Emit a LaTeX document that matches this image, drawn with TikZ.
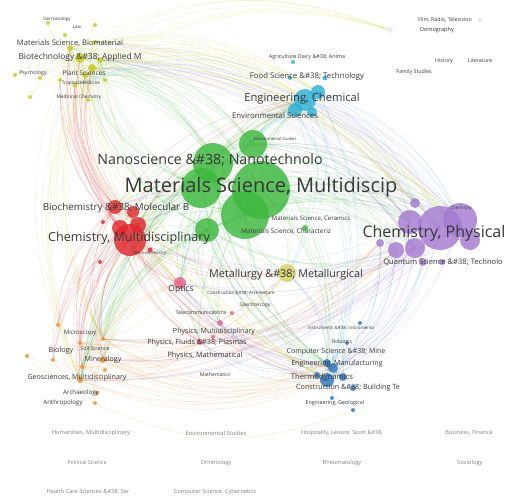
\documentclass[tikz,border=0pt]{standalone}
\usepackage{fontspec}
\setmainfont{Open Sans}
\usetikzlibrary{calc}
\definecolor{cgreen}{HTML}{3DB83D}
\definecolor{cpurple}{HTML}{A57BD0}
\definecolor{cred}{HTML}{E0282E}
\definecolor{ccyan}{HTML}{2EB0D8}
\definecolor{cyellow}{HTML}{C8CC1E}
\definecolor{corange}{HTML}{F09030}
\definecolor{cblue}{HTML}{2F74C0}
\definecolor{cpink}{HTML}{E5608A}
\definecolor{colive}{HTML}{D6D060}
\definecolor{ctext}{HTML}{383838}
\pgfdeclarelayer{bg}
\pgfsetlayers{bg,main}
\tikzset{
  bub/.style={circle, inner sep=0pt, minimum size=#1, draw=none, fill opacity=0.82},
  lab/.style={font=\fontsize{#1}{#1}\selectfont, text=ctext, inner sep=0pt},
  flab/.style={font=\fontsize{#1}{#1}\selectfont, text=black!50, inner sep=0pt},
  link/.style={line width=0.6pt, draw opacity=0.17},
}
\newcommand\linkset[3]{%
  \foreach \ea in {#1}{\foreach \eb in {#2}{%
    \draw[link,#3] let \p1=(\ea.center), \p2=(\eb.center),
      \n1={24*sign(((\x2-\x1)/100)*(((\y1+\y2)/2+230)/100)-((\y2-\y1)/100)*(((\x1+\x2)/2-260)/100))}
      in (\ea.center) to[bend left=\n1] (\eb.center);
  }}}
\begin{document}
\begin{tikzpicture}[x=1pt,y=-1pt]
\useasboundingbox (0,0) rectangle (510,500);
\begin{pgfonlayer}{bg}
\fill[white] (0,0) rectangle (510,500);
\end{pgfonlayer}
% ---------- bubbles ----------
% green
\node[bub=40pt,fill=cgreen] (gA) at (213,163) {};
\node[bub=40pt,fill=cgreen] (gB) at (201,188) {};
\node[bub=28pt,fill=cgreen] (gD) at (253,144) {};
\node[bub=48pt,fill=cgreen] (gE) at (245,215) {};
\node[bub=24pt,fill=cgreen] (gF) at (207,230) {};
\node[bub=58pt,fill=cgreen] (gC) at (261,190) {};
\node[bub=6pt,fill=cgreen] (gG) at (305,228) {};
% purple
\node[bub=34pt,fill=cpurple] (pB) at (460,220) {};
\node[bub=24pt,fill=cpurple] (pC) at (410,222) {};
\node[bub=44pt,fill=cpurple] (pA) at (440,228) {};
\node[bub=10pt,fill=cpurple] (pD) at (415,203) {};
\node[bub=16pt,fill=cpurple] (pE) at (396,250) {};
\node[bub=20pt,fill=cpurple] (pF) at (415,248) {};
\node[bub=8pt,fill=cpurple] (pG) at (380,243) {};
\node[bub=6pt,fill=cpurple] (pH) at (442,262) {};
\node[bub=8pt,fill=cpurple] (pI) at (423,262) {};
\node[bub=20pt,fill=cpurple] (pJ) at (470,240) {};
% red
\node[bub=32pt,fill=cred] (rA) at (130,240) {};
\node[bub=14pt,fill=cred] (rB) at (115,207) {};
\node[bub=12pt,fill=cred] (rC) at (133,212) {};
\node[bub=16pt,fill=cred] (rD) at (138,225) {};
\node[bub=16pt,fill=cred] (rE) at (120,228) {};
\node[bub=4pt,fill=cred] (rF) at (100,262) {};
\node[bub=4pt,fill=cred] (rG) at (103,222) {};
\node[bub=5pt,fill=cred] (rH) at (150,250) {};
% cyan
\node[bub=22pt,fill=ccyan] (cA) at (305,100) {};
\node[bub=14pt,fill=ccyan] (cB) at (318,92) {};
\node[bub=14pt,fill=ccyan] (cC) at (295,110) {};
\node[bub=10pt,fill=ccyan] (cD) at (312,112) {};
\node[bub=4pt,fill=ccyan] (cE) at (290,78) {};
\node[bub=4pt,fill=ccyan] (cF) at (293,62) {};
\node[bub=5pt,fill=ccyan] (cG) at (325,78) {};
% yellow
\node[bub=10pt,fill=cyellow] (yA) at (80,58) {};
\node[bub=8pt,fill=cyellow] (yB) at (92,68) {};
\node[bub=6pt,fill=cyellow] (yC) at (70,48) {};
\node[bub=6pt,fill=cyellow] (yD) at (85,75) {};
\node[bub=6pt,fill=cyellow] (yE) at (100,60) {};
\node[bub=5pt,fill=cyellow] (yF) at (75,85) {};
\node[bub=4pt,fill=cyellow] (yG) at (60,80) {};
\node[bub=4pt,fill=cyellow] (yH) at (95,42) {};
\node[bub=4pt,fill=cyellow] (yI) at (48,23) {};
\node[bub=4pt,fill=cyellow] (yJ) at (95,25) {};
\node[bub=4pt,fill=cyellow] (yK) at (40,78) {};
\node[bub=4pt,fill=cyellow] (yL) at (88,100) {};
\node[bub=4pt,fill=cyellow] (yM) at (15,75) {};
\node[bub=4pt,fill=cyellow] (yN) at (30,97) {};
\node[bub=4pt,fill=cyellow] (yO) at (105,80) {};
\node[bub=4pt,fill=cyellow] (yP) at (65,35) {};
% orange
\node[bub=6pt,fill=corange] (oA) at (80,380) {};
\node[bub=4pt,fill=corange] (oB) at (58,325) {};
\node[bub=4pt,fill=corange] (oC) at (27,356) {};
\node[bub=4pt,fill=corange] (oD) at (53,360) {};
\node[bub=4pt,fill=corange] (oE) at (103,339) {};
\node[bub=4pt,fill=corange] (oF) at (82,367) {};
\node[bub=4pt,fill=corange] (oG) at (105,370) {};
\node[bub=6pt,fill=corange] (oH) at (103,360) {};
\node[bub=4pt,fill=corange] (oI) at (97,393) {};
\node[bub=4pt,fill=corange] (oJ) at (95,403) {};
\node[bub=4pt,fill=corange] (oK) at (80,343) {};
% blue
\node[bub=14pt,fill=cblue] (bA) at (327,380) {};
\node[bub=10pt,fill=cblue] (bB) at (333,368) {};
\node[bub=6pt,fill=cblue] (bC) at (317,375) {};
\node[bub=8pt,fill=cblue] (bD) at (327,363) {};
\node[bub=8pt,fill=cblue] (bE) at (343,377) {};
\node[bub=4pt,fill=cblue] (bF) at (347,343) {};
\node[bub=4pt,fill=cblue] (bG) at (360,323) {};
\node[bub=6pt,fill=cblue] (bH) at (353,388) {};
\node[bub=4pt,fill=cblue] (bI) at (332,398) {};
\node[bub=4pt,fill=cblue] (bJ) at (353,410) {};
% pink / olive / grey
\node[bub=12pt,fill=cpink] (mA) at (180,283) {};
\node[bub=6pt,fill=cpink] (mB) at (200,342) {};
\node[bub=6pt,fill=cpink] (mC) at (220,323) {};
\node[bub=4pt,fill=cpink] (mD) at (213,337) {};
\node[bub=4pt,fill=cpink] (mE) at (232,313) {};
\node[bub=18pt,fill=colive] (lA) at (287,273) {};
\node[bub=4pt,fill=black!12] (tA) at (480,20) {};
\node[bub=6pt,fill=black!8] (tB) at (390,30) {};
% ---------- links ----------
\begin{pgfonlayer}{bg}
\linkset{gA,gB,gC,gD,gE,gF}{pA,pB,pC,pE,pF,pJ,rA,rB,rD,rE,cA,cB,cC,yA,yB,yC,yD,yE,oA,oE,oH,oF,bA,bB,bD,bE,mA,mB,mC,lA}{cgreen}
\linkset{pA,pB,pC,pF}{rA,rB,rD,cA,cB,yA,yB,yE,yH,oA,oH,oE,bA,bB,mA,mB,lA,gD}{cpurple}
\linkset{rA,rB,rD,rE}{yA,yB,yC,yD,yF,yG,oA,oB,oD,oE,oF,oH,oK,cA,bA,bB,mA,mB,lA}{cred}
\linkset{yA,yB,yC,yD,yE,yH}{cA,cB,tB,pD,pJ,oA,oE,bA,mA}{cyellow}
\linkset{oA,oE,oH,oF,oK}{cA,bA,bB,bD,mA,mB,lA,pE,pG}{corange}
\linkset{cA,cB,cC}{bA,bB,pD,pJ,oA,mA,lA,yF}{ccyan}
\linkset{bA,bB,bD}{mA,mB,mC,lA,pE,pG,pI}{cblue}
\linkset{yA,yB}{yC,yF,yG,yH,yI,yJ,yK,yL,yM,yN,yO,yP}{cyellow}
\linkset{oA,oH}{oB,oC,oD,oE,oF,oG,oI,oJ,oK}{corange}
\linkset{mA}{mB,mC,mD,mE}{cpink}
\linkset{bA}{bC,bE,bF,bG,bH,bI,bJ}{cblue}
\linkset{oJ}{bJ}{corange}
\end{pgfonlayer}
% ---------- labels ----------
\node[lab=4.5] (tDerm) at (57,19) {Dermatology};
\node[lab=4.5] (tLaw) at (77,27) {Law};
\node[lab=7.6] (tBiomat) at (70,43) {Materials Science, Biomaterial};
\node[lab=8.4] (tBiotech) at (80,57) {Biotechnology \&\#38; Applied M};
\node[lab=5.3] (tPsy) at (33,73) {Psychology};
\node[lab=6.5] (tPlant) at (84,73) {Plant Sciences};
\node[lab=4.7] (tTrop) at (81,83) {Tropical Medicine};
\node[lab=4.7] (tMed) at (79,97) {Medicinal Chemistry};
\node[lab=5.4] (tAgri) at (307,57) {Agriculture Dairy \&\#38; Anima};
\node[lab=7.8] (tFood) at (307,76) {Food Science \&\#38; Technology};
\node[lab=11.2] (tEngChem) at (302,99) {Engineering, Chemical};
\node[lab=7.8] (tEnvSci) at (275,116) {Environmental Sciences};
\node[lab=4.1] (tEnvStu) at (275,139) {Environmental Studies};
\node[lab=5.3] (tFilm) at (445,20) {Film, Radio, Television};
\node[lab=5.6] (tDemo) at (437,30) {Demography};
\node[lab=5.3] (tHist) at (444,61) {History};
\node[lab=5.3] (tLit) at (480,61) {Literature};
\node[lab=5.3] (tFam) at (414,72) {Family Studies};
\node[lab=14.2] (tNano) at (210,160) {Nanoscience \&\#38; Nanotechnolo};
\node[lab=20] (tMat) at (261,187) {Materials Science, Multidiscip};
\node[lab=16] (tChemPhys) at (434,233) {Chemistry, Physical};
\node[lab=4.5] (tChemS) at (461,208) {Chemistry};
\node[lab=7.6] (tQuant) at (443,262) {Quantum Science \&\#38; Technolo};
\node[lab=9.8] (tBiochem) at (116,208) {Biochemistry \&\#38; Molecular B};
\node[lab=12.6] (tChemMul) at (129,238) {Chemistry, Multidisciplinary};
\node[lab=4.1] (tElec) at (150,253) {Electrochemistry};
\node[lab=6.1] (tCer) at (311,219) {Materials Science, Ceramics};
\node[lab=6.5] (tChar) at (286,231) {Materials Science, Characteriz};
\node[lab=10.8] (tMet) at (286,275) {Metallurgy \&\#38; Metallurgical};
\node[lab=8.6] (tOpt) at (181,289) {Optics};
\node[lab=4.5] (tConsA) at (241,293) {Construction \&\#38; Architecture};
\node[lab=5] (tSpec) at (255,305) {Spectroscopy};
\node[lab=5.3] (tTele) at (201,313) {Telecommunications};
\node[lab=7.1] (tPhysM) at (214,332) {Physics, Multidisciplinary};
\node[lab=7.2] (tPhysF) at (197,343) {Physics, Fluids \&\#38; Plasmas};
\node[lab=7.3] (tPhysMa) at (205,356) {Physics, Mathematical};
\node[lab=5] (tMath) at (215,375) {Mathematics};
\node[lab=6.1] (tMicro) at (80,333) {Microscopy};
\node[lab=7.2] (tBio) at (61,351) {Biology};
\node[lab=5.4] (tSoil) at (95,348) {Soil Science};
\node[lab=7.1] (tMin) at (103,360) {Mineralogy};
\node[lab=7.1] (tGeo) at (77,378) {Geosciences, Multidisciplinary};
\node[lab=6.2] (tArch) at (81,393) {Archaeology};
\node[lab=6.2] (tAnth) at (63,403) {Anthropology};
\node[lab=4.5] (tInst) at (341,328) {Instruments \&\#38; Instrumenta};
\node[lab=5] (tRob) at (342,342) {Robotics};
\node[lab=7] (tComp) at (336,352) {Computer Science \&\#38; Mine};
\node[lab=7.1] (tEngMan) at (337,364) {Engineering, Manufacturing};
\node[lab=7.7] (tThermo) at (322,377) {Thermodynamics};
\node[lab=7.2] (tConsB) at (348,388) {Construction \&\#38; Building Te};
\node[lab=5.4] (tEngGeo) at (335,403) {Engineering, Geological};
\node[flab=5.8] (tHum) at (91,433) {Humanities, Multidisciplinary};
\node[flab=5.8] (tEnvS2) at (216,433) {Environmental Studies};
\node[flab=5.5] (tHosp) at (342,433) {Hospitality, Leisure, Sport \&\#38;};
\node[flab=5.8] (tBus) at (469,433) {Business, Finance};
\node[flab=5.3] (tPol) at (87,463) {Political Science};
\node[flab=5.5] (tOrn) at (216,463) {Ornithology};
\node[flab=5.7] (tRheu) at (342,463) {Rheumatology};
\node[flab=5.7] (tSoc) at (470,463) {Sociology};
\node[flab=5.7] (tHealth) at (88,492) {Health Care Sciences \&\#38; Ser};
\node[flab=5.7] (tCyb) at (215,492) {Computer Science, Cybernetics};
\end{tikzpicture}
\end{document}
